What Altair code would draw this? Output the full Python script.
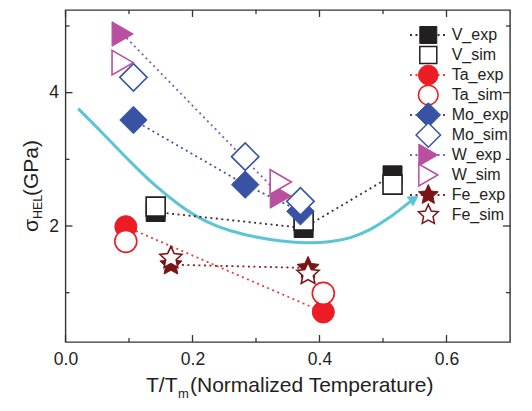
import altair as alt
import pandas as pd

# ---------------- data ----------------
V_x = [0.142, 0.375, 0.515]
V_exp = [2.21, 1.97, 2.76]
V_sim = [2.29, 2.08, 2.62]

Ta_x = [0.095, 0.406]
Ta_exp = [1.99, 0.71]
Ta_sim = [1.77, 0.99]

Mo_x = [0.107, 0.283, 0.370]
Mo_exp = [3.59, 2.62, 2.22]
Mo_sim = [4.23, 3.04, 2.37]

W_x = [0.090, 0.339]
W_exp = [4.88, 2.45]
W_sim = [4.45, 2.66]

Fe_x = [0.166, 0.382]
Fe_exp = [1.42, 1.37]
Fe_sim = [1.52, 1.28]

curve_x = [0.020, 0.060, 0.100, 0.140, 0.180, 0.220, 0.260, 0.300, 0.340, 0.380,
           0.420, 0.450, 0.480, 0.510, 0.530, 0.546]
curve_y = [3.76, 3.38, 2.98, 2.61, 2.30, 2.06, 1.92, 1.83, 1.77, 1.74,
           1.76, 1.82, 1.94, 2.12, 2.27, 2.39]
arrow_x = [0.549]
arrow_y = [2.41]

x_major = [0.0, 0.2, 0.4, 0.6]
x_minor = [0.1, 0.3, 0.5]
y_major = [2, 4]
y_minor = [1, 3, 5]

legend_labels = ["V_exp", "V_sim", "Ta_exp", "Ta_sim", "Mo_exp", "Mo_sim",
                 "W_exp", "W_sim", "Fe_exp", "Fe_sim"]

# ---------------- styles ----------------
STAR = ("M0,-1L0.282,-0.388L0.951,-0.309L0.456,0.148L0.588,0.809L0,0.48"
        "L-0.588,0.809L-0.456,0.148L-0.951,-0.309L-0.282,-0.388Z")
style = {
    "V": dict(color="#231f20", shape="square", size=361, line="#333333"),
    "Ta": dict(color="#ed1c24", shape="circle", size=484, line="#ee3a3a"),
    "Mo": dict(color="#3953a4", shape="diamond", size=750, line="#3953a4"),
    "W": dict(color="#b9509f", shape="triangle-right", size=600, line="#6f63c4"),
    "Fe": dict(color="#7b1416", shape=STAR, size=540, line="#8c2020"),
}
series = [
    ("V", V_x, V_exp, V_sim),
    ("Ta", Ta_x, Ta_exp, Ta_sim),
    ("Mo", Mo_x, Mo_exp, Mo_sim),
    ("W", W_x, W_exp, W_sim),
    ("Fe", Fe_x, Fe_exp, Fe_sim),
]

X0, X1 = 0.0, 0.7
Y0, Y1 = 0.26, 5.24
W, H = 444.5, 332
FONT = "Liberation Sans"
TXT = "#231f20"

pts_rows, line_rows = [], []
for name, xs, ye, ys in series:
    st = style[name]
    for x, y in zip(xs, ye):
        pts_rows.append(dict(x=x, y=y, shape=st["shape"], fill=st["color"],
                             stroke=st["color"], size=st["size"], sw=1.0))
        line_rows.append(dict(x=x, y=y, s=name, lc=st["line"]))
    for x, y in zip(xs, ys):
        pts_rows.append(dict(x=x, y=y, shape=st["shape"], fill="white",
                             stroke=st["color"], size=st["size"], sw=1.6))
pts = pd.DataFrame(pts_rows)
lines = pd.DataFrame(line_rows)
curve = pd.DataFrame({"x": curve_x, "y": curve_y})
arrow = pd.DataFrame({"x": arrow_x, "y": arrow_y})

# legend table (positions computed from row index, in data units)
ppx = W / (X1 - X0)
ppy = H / (Y1 - Y0)
leg_rows = []
for i, lab in enumerate(legend_labels):
    name, kind = lab.split("_")
    st = style[name]
    yy = Y1 - (25 + 20 * i) / ppy
    leg_rows.append(dict(
        label=lab, y=yy,
        x=362.8 / ppx, tx=386.2 / ppx, lx1=344.5 / ppx, lx2=382.5 / ppx,
        shape=st["shape"], stroke=st["color"],
        fill=st["color"] if kind == "exp" else "white",
        size=st["size"] * 0.8, sw=1.0 if kind == "exp" else 1.5,
        lc=st["line"], exp=kind == "exp"))
leg = pd.DataFrame(leg_rows)

xenc = alt.X("x:Q", scale=alt.Scale(domain=[X0, X1], nice=False, zero=False),
             axis=alt.Axis(values=x_major, format=".1f", ticks=False, tickSize=0,
                           domain=False, grid=False, labelFontSize=17.5,
                           labelFont=FONT, labelColor=TXT, labelPadding=8,
                           labelFlush=False, labelOverlap=False, title=None))
yenc = alt.Y("y:Q", scale=alt.Scale(domain=[Y0, Y1], nice=False, zero=False),
             axis=alt.Axis(values=y_major, format="d", ticks=False, tickSize=0,
                           domain=False, grid=False, labelFontSize=17.5,
                           labelFont=FONT, labelColor=TXT, labelPadding=7,
                           labelFlush=False, labelOverlap=False, title=None))

cyan = "#5cc5d5"

curve_layer = alt.Chart(curve).mark_line(
    interpolate="basis", color=cyan, strokeWidth=3).encode(x=xenc, y=yenc)
arrow_layer = alt.Chart(arrow).mark_point(
    shape="triangle-up", angle=57, filled=True, color=cyan, size=140,
    opacity=1).encode(x=xenc, y=yenc)

dot_layer = alt.Chart(lines).mark_line(strokeDash=[2, 3.5], strokeWidth=1.8).encode(
    x=xenc, y=yenc, detail="s:N", stroke=alt.Stroke("lc:N", scale=None))

pt_layer = alt.Chart(pts).mark_point(filled=True, opacity=1).encode(
    x=xenc, y=yenc,
    shape=alt.Shape("shape:N", scale=None),
    fill=alt.Fill("fill:N", scale=None),
    stroke=alt.Stroke("stroke:N", scale=None),
    size=alt.Size("size:Q", scale=None),
    strokeWidth=alt.StrokeWidth("sw:Q", scale=None))

leg_line = alt.Chart(leg[leg["exp"]]).mark_rule(strokeDash=[2, 3.5], strokeWidth=1.8).encode(
    x=alt.X("lx1:Q", scale=alt.Scale(domain=[X0, X1], nice=False, zero=False)),
    x2="lx2:Q", y=yenc, stroke=alt.Stroke("lc:N", scale=None))
leg_pt = alt.Chart(leg).mark_point(filled=True, opacity=1).encode(
    x=xenc, y=yenc,
    shape=alt.Shape("shape:N", scale=None),
    fill=alt.Fill("fill:N", scale=None),
    stroke=alt.Stroke("stroke:N", scale=None),
    size=alt.Size("size:Q", scale=None),
    strokeWidth=alt.StrokeWidth("sw:Q", scale=None))
leg_txt = alt.Chart(leg).mark_text(
    align="left", baseline="middle", fontSize=16, font=FONT, color=TXT).encode(
    x=alt.X("tx:Q", scale=alt.Scale(domain=[X0, X1], nice=False, zero=False)),
    y=yenc, text="label:N")

# inward ticks on all four sides
tick_c = "#333333"
def xticks(vals, ln):
    d = pd.DataFrame({"x": vals})
    b = alt.Chart(d).mark_rule(color=tick_c, strokeWidth=1.3).encode(
        x=xenc, y=alt.value(H), y2=alt.value(H - ln))
    t = alt.Chart(d).mark_rule(color=tick_c, strokeWidth=1.3).encode(
        x=xenc, y=alt.value(0), y2=alt.value(ln))
    return [b, t]
def yticks(vals, ln):
    d = pd.DataFrame({"y": vals})
    l = alt.Chart(d).mark_rule(color=tick_c, strokeWidth=1.3).encode(
        y=yenc, x=alt.value(0), x2=alt.value(ln))
    r = alt.Chart(d).mark_rule(color=tick_c, strokeWidth=1.3).encode(
        y=yenc, x=alt.value(W), x2=alt.value(W - ln))
    return [l, r]
tick_layers = xticks(x_major, 7) + xticks(x_minor, 4) + yticks(y_major, 7) + yticks(y_minor, 4)

# axis titles with subscripts
def txt(s, px, py, size, angle=0):
    return alt.Chart(pd.DataFrame({"t": [s]})).mark_text(
        align="left", baseline="alphabetic", fontSize=size, font=FONT,
        color=TXT, angle=angle).encode(
        text="t:N", x=alt.value(px), y=alt.value(py))

titles = [
    txt("T/T", 80.5, 382, 21),
    txt("m", 112.5, 388, 13),
    txt("(Normalized Temperature)", 124.5, 382, 21),
    txt("σ", -27.5, 222, 21, 270),
    txt("HEL", -23.5, 209, 12.5, 270),
    txt("(GPa)", -27.5, 186, 21, 270),
]

chart = alt.layer(
    curve_layer, arrow_layer, dot_layer, pt_layer,
    leg_line, leg_pt, leg_txt, *tick_layers, *titles
).properties(
    width=W, height=H, autosize="none",
    padding={"left": 57.5, "top": 2, "right": 14, "bottom": 61},
).configure_view(stroke="#333333", strokeWidth=1.4)

chart.save("out.html", embed_options={"renderer": "svg", "actions": False})
